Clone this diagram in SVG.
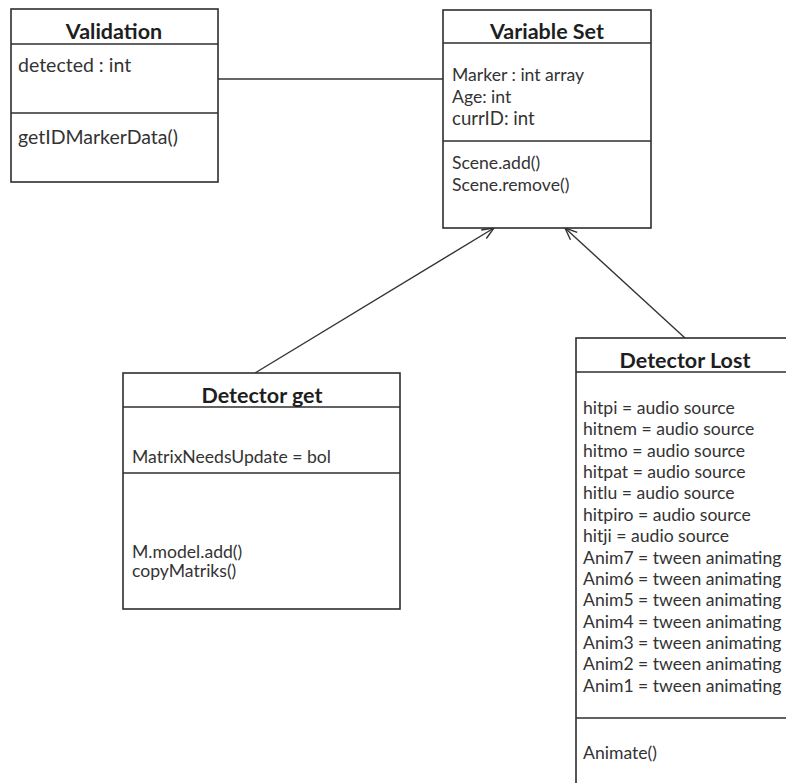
<svg xmlns="http://www.w3.org/2000/svg" width="786" height="783" viewBox="0 0 786 783">
  <defs>
    <style>
      .box { fill: #ffffff; stroke: #2e2e2e; stroke-width: 1.6; }
      .div { stroke: #2e2e2e; stroke-width: 1.6; }
      .title { font-family: Lato, "Liberation Sans", sans-serif; font-weight: bold; font-size: 21.5px; fill: #1e1e1e; text-anchor: middle; }
      .attr { font-family: Lato, "Liberation Sans", sans-serif; font-size: 17.6px; fill: #333333; }
      .big { font-size: 19.5px; }
      .link { stroke: #333333; stroke-width: 1.4; fill: none; }
    </style>
    <marker id="open" viewBox="0 0 14 12" refX="13" refY="6" markerWidth="14" markerHeight="12" markerUnits="userSpaceOnUse" orient="auto">
      <path d="M1,1 L13,6 L1,11" fill="none" stroke="#333333" stroke-width="1.4"/>
    </marker>
  </defs>
  <rect width="786" height="783" fill="#ffffff"/>

  <g id="connectors">
    <line class="link" x1="218" y1="79" x2="443" y2="79"/>
    <line class="link" x1="255" y1="373" x2="494" y2="228" marker-end="url(#open)"/>
    <line class="link" x1="685" y1="338" x2="565" y2="228" marker-end="url(#open)"/>
  </g>

  <g id="validation">
    <rect class="box" x="11" y="9" width="207" height="173"/>
    <line class="div" x1="11" y1="44" x2="218" y2="44"/>
    <line class="div" x1="11" y1="113" x2="218" y2="113"/>
    <text class="title" x="114" y="38.5">Validation</text>
    <text class="attr big" x="18" y="72">detected : int</text>
    <text class="attr big" x="18" y="144">getIDMarkerData()</text>
  </g>

  <g id="variable-set">
    <rect class="box" x="443" y="10" width="208" height="218"/>
    <line class="div" x1="443" y1="43" x2="651" y2="43"/>
    <line class="div" x1="443" y1="141" x2="651" y2="141"/>
    <text class="title" x="547" y="38.5">Variable Set</text>
    <text class="attr" x="452" y="81">Marker : int array</text>
    <text class="attr" x="452" y="103">Age: int</text>
    <text class="attr" x="452" y="124.5" style="font-size:18.6px">currID: int</text>
    <text class="attr" x="452" y="169">Scene.add()</text>
    <text class="attr" x="452" y="191">Scene.remove()</text>
  </g>

  <g id="detector-get">
    <rect class="box" x="123" y="373" width="277" height="236"/>
    <line class="div" x1="123" y1="407" x2="400" y2="407"/>
    <line class="div" x1="123" y1="473" x2="400" y2="473"/>
    <text class="title" x="262" y="402.5">Detector get</text>
    <text class="attr" x="132" y="463">MatrixNeedsUpdate = bol</text>
    <text class="attr" x="132" y="558">M.model.add()</text>
    <text class="attr" x="132" y="577">copyMatriks()</text>
  </g>

  <g id="detector-lost">
    <rect class="box" x="576" y="338" width="230" height="460"/>
    <line class="div" x1="576" y1="372" x2="806" y2="372"/>
    <line class="div" x1="576" y1="718" x2="806" y2="718"/>
    <text class="title" x="685" y="367.5">Detector Lost</text>
    <text class="attr" x="583" y="414">hitpi = audio source</text>
    <text class="attr" x="583" y="435.4">hitnem = audio source</text>
    <text class="attr" x="583" y="456.7">hitmo = audio source</text>
    <text class="attr" x="583" y="478">hitpat = audio source</text>
    <text class="attr" x="583" y="499.4">hitlu = audio source</text>
    <text class="attr" x="583" y="520.7">hitpiro = audio source</text>
    <text class="attr" x="583" y="542.1">hitji = audio source</text>
    <text class="attr" x="583" y="563.5">Anim7 = tween animating</text>
    <text class="attr" x="583" y="584.8">Anim6 = tween animating</text>
    <text class="attr" x="583" y="606.2">Anim5 = tween animating</text>
    <text class="attr" x="583" y="627.5">Anim4 = tween animating</text>
    <text class="attr" x="583" y="648.9">Anim3 = tween animating</text>
    <text class="attr" x="583" y="670.2">Anim2 = tween animating</text>
    <text class="attr" x="583" y="691.6">Anim1 = tween animating</text>
    <text class="attr" x="583" y="759">Animate()</text>
  </g>
</svg>
